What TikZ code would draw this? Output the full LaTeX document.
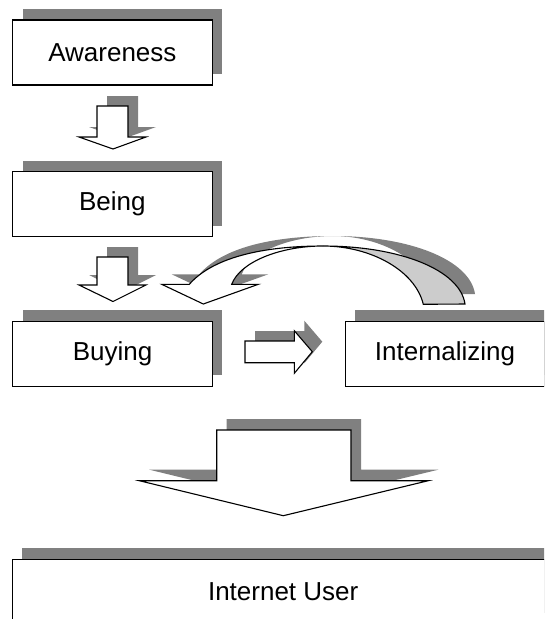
\documentclass[tikz,border=0pt]{standalone}
\usepackage{fontspec}
\setmainfont{Liberation Sans}
\usetikzlibrary{shadows}
\definecolor{sgray}{HTML}{808080}
\definecolor{lgray}{HTML}{CCCCCC}
\tikzset{
  box/.style={draw=black, line width=1.2pt, fill=white, minimum width=199.5pt,
    minimum height=65pt, inner sep=0pt, font=\fontsize{26}{30}\selectfont,
    general shadow={fill=sgray, shadow xshift=10pt, shadow yshift=11pt}},
  blk/.style={draw=black, line width=1.1pt, fill=white, line join=miter},
  blkg/.style={draw=black, line width=1.1pt, fill=lgray, line join=miter},
  shd/.style={fill=sgray, draw=none, shift={(10,-10)}},
  pArrA/.style={insert path={(97,106) -- (128,106) -- (128,137) -- (146,137) -- (113,149) -- (79,137) -- (97,137) -- cycle}},
  pArrB/.style={insert path={(97,257) -- (128,257) -- (128,285) -- (146,285) -- (113,301.5) -- (79,285) -- (97,285) -- cycle}},
  pArrR/.style={insert path={(245,341) -- (294.3,341) -- (294.3,330.7) -- (312.3,351.7) -- (294.3,373.3) -- (294.3,362.7) -- (245,362.7) -- cycle}},
  pArrBig/.style={insert path={(216.7,430) -- (351,430) -- (351,480.7) -- (428.3,480.7) -- (283.3,515.7) -- (139.3,480.7) -- (216.7,480.7) -- cycle}},
  pCurveW/.style={insert path={(189.3,284.3) .. controls (215,255) and (270,246) .. (323,246)
      .. controls (280,246) and (240,262) .. (231.7,284.3) -- (258.3,284.3) -- (203.3,304) -- (161.7,284.3) -- cycle}},
  pCurveG/.style={insert path={(323,246) .. controls (400,246) and (460,270) .. (465,304)
      -- (423.3,304.3) .. controls (415,270) and (370,246) .. (323,246) -- cycle}},
}
\begin{document}
\begin{tikzpicture}[x=1pt,y=-1pt]
\useasboundingbox (0,0) rectangle (544,619);
\clip (0,0) rectangle (544,619);
% boxes
\node[box] (aw) at (112.4,52.5) {Awareness};
\node[box] (be) at (112.4,204) {Being};
\node[box] (bu) at (112.5,353.9) {Buying};
\node[box] (in) at (445,353.9) {Internalizing};
\node[box, minimum width=541.7pt] (iu) at (283.2,591.8) {Internet User};
% block arrows
\fill[shd, pArrA]; \draw[blk, pArrA];
\fill[shd, pArrB]; \draw[blk, pArrB];
\fill[shd, pCurveG]; \fill[shd, pCurveW];
\draw[blkg, pCurveG]; \draw[blk, pCurveW];
\fill[shd, pArrR]; \draw[blk, pArrR];
\fill[sgray, draw=none, shift={(10,-11)}, pArrBig]; \draw[blk, pArrBig];
\end{tikzpicture}
\end{document}
